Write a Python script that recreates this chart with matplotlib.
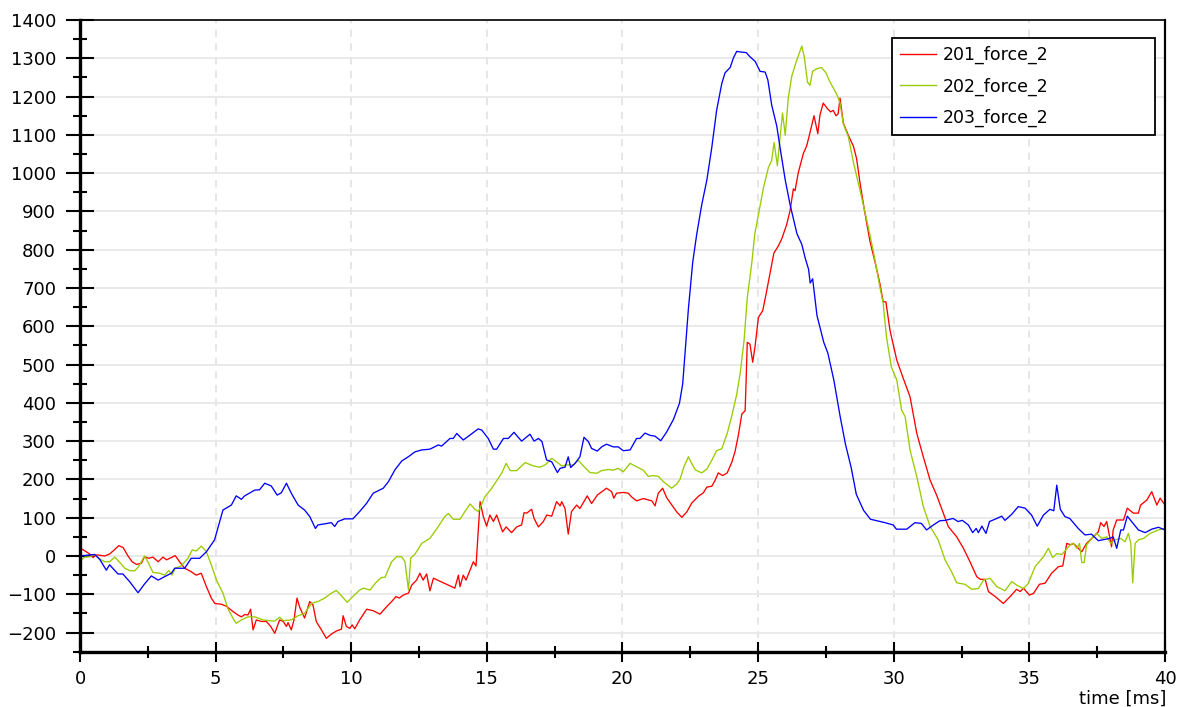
import matplotlib
matplotlib.use("Agg")
import matplotlib.pyplot as plt
from matplotlib.ticker import MultipleLocator

# ---- measured force traces (time in ms, force) ----
t_201 = [0, 0.10, 0.36, 0.48, 0.60, 0.91, 1.09, 1.28, 1.43, 1.59, 1.77, 1.92, 2.08, 2.26, 2.38, 2.53,
         2.69, 2.88, 3.06, 3.19, 3.31, 3.51, 3.67, 3.86, 4.10, 4.28, 4.47, 4.66, 4.84, 4.97, 5.21, 5.39,
         5.64, 5.82, 5.95, 6.07, 6.19, 6.29, 6.38, 6.50, 6.68, 6.87, 7.03, 7.18, 7.36, 7.49, 7.61, 7.67,
         7.79, 7.89, 8.00, 8.10, 8.28, 8.47, 8.59, 8.71, 8.90, 9.08, 9.27, 9.45, 9.64, 9.70, 9.82, 9.95,
         10.03, 10.13, 10.31, 10.57, 10.81, 11.06, 11.31, 11.49, 11.65, 11.77, 11.92, 12.11, 12.23, 12.41,
         12.53, 12.65, 12.78, 12.90, 13.03, 13.82, 13.95, 14.01, 14.13, 14.23, 14.38, 14.50, 14.60, 14.75,
         14.87, 14.99, 15.11, 15.24, 15.36, 15.58, 15.71, 15.91, 16.10, 16.28, 16.37, 16.47, 16.65, 16.74,
         16.90, 17.08, 17.21, 17.39, 17.57, 17.70, 17.76, 17.88, 18.00, 18.12, 18.31, 18.43, 18.70, 18.86,
         19.07, 19.41, 19.60, 19.68, 19.78, 20.03, 20.21, 20.34, 20.52, 20.77, 21.08, 21.20, 21.32, 21.48,
         21.63, 21.82, 22.00, 22.19, 22.37, 22.55, 22.80, 22.98, 23.11, 23.29, 23.41, 23.53, 23.69, 23.86,
         24.03, 24.15, 24.27, 24.40, 24.52, 24.55, 24.60, 24.70, 24.80, 24.89, 25.01, 25.17, 25.29, 25.44,
         25.58, 25.74, 25.87, 26.05, 26.18, 26.30, 26.36, 26.48, 26.67, 26.79, 26.92, 27.06, 27.20, 27.28,
         27.40, 27.55, 27.67, 27.77, 27.87, 27.95, 28.02, 28.14, 28.33, 28.51, 28.63, 28.76, 28.91, 29.12,
         29.31, 29.49, 29.61, 29.71, 29.86, 30.11, 30.35, 30.60, 30.85, 31.09, 31.34, 31.58, 31.83, 32.01,
         32.32, 32.57, 32.81, 33.06, 33.19, 33.37, 33.49, 33.74, 34.04, 34.29, 34.53, 34.66, 34.78, 35.00,
         35.15, 35.37, 35.58, 35.82, 36.07, 36.23, 36.38, 36.52, 36.62, 36.75, 36.93, 37.11, 37.30, 37.54,
         37.63, 37.75, 37.85, 37.97, 38.03, 38.09, 38.22, 38.47, 38.61, 38.83, 39.02, 39.10, 39.33, 39.51,
         39.70, 39.82, 40.0]
f_201 = [20, 17, 5, -4, 3, 0, 5, 17, 27, 22, 0, -15, -22, -19, -2, -6,
         -3, -15, -3, -10, -6, 1, -15, -32, -41, -50, -45, -80, -110, -124, -126, -131,
         -145, -154, -159, -153, -154, -139, -193, -167, -171, -171, -184, -202, -167, -171, -184, -174,
         -193, -167, -110, -134, -162, -119, -128, -171, -193, -215, -204, -196, -191, -156, -184, -189,
         -180, -190, -167, -139, -143, -152, -132, -119, -106, -110, -102, -97, -76, -63,
         -45, -63, -47, -91, -58, -84, -50, -80, -50, -63, -37, -15, -26, 142,
         103, 78, 107, 90, 107, 63, 76, 61, 76, 81, 113, 112, 122, 98,
         76, 90, 107, 104, 142, 131, 142, 124, 57, 116, 133, 124, 157, 137,
         159, 177, 168, 151, 164, 166, 164, 154, 144, 150, 144, 131, 164, 177,
         152, 133, 115, 101, 115, 138, 156, 165, 180, 182, 197, 217, 210, 217,
         245, 273, 315, 371, 379, 441, 558, 553, 506, 549, 623, 641, 683, 739,
         791, 809, 828, 865, 903, 959, 954, 1001, 1052, 1071, 1108, 1150, 1103, 1152,
         1183, 1169, 1160, 1164, 1150, 1155, 1196, 1131, 1098, 1071, 1038, 973, 907, 823,
         768, 711, 664, 664, 590, 512, 464, 416, 320, 259, 198, 159, 111, 77,
         50, 20, -15, -54, -61, -61, -93, -106, -124, -106, -87, -93, -84, -102,
         -98, -74, -71, -45, -28, -26, 33, 29, 33, 24, 11, 33, 46, 63,
         87, 77, 90, 46, 24, 68, 94, 94, 125, 112, 112, 133, 146, 168,
         133, 151, 133]

t_202 = [0, 0.17, 0.36, 0.54, 0.73, 0.91, 1.09, 1.28, 1.47, 1.65, 1.83, 2.01, 2.16, 2.38, 2.53, 2.69,
         2.94, 3.12, 3.27, 3.39, 3.51, 3.73, 3.98, 4.14, 4.29, 4.47, 4.66, 4.84, 5.03, 5.27, 5.45, 5.64,
         5.76, 5.95, 6.19, 6.44, 6.75, 6.99, 7.18, 7.36, 7.49, 7.79, 8.04, 8.28, 8.53, 8.77, 9.02, 9.27,
         9.45, 9.64, 9.85, 10.06, 10.31, 10.45, 10.69, 10.94, 11.12, 11.24, 11.49, 11.67, 11.86, 11.98,
         12.11, 12.19, 12.35, 12.60, 12.90, 13.21, 13.45, 13.58, 13.76, 14.01, 14.19, 14.38, 14.56, 14.69,
         14.93, 15.18, 15.42, 15.55, 15.71, 15.86, 16.10, 16.41, 16.72, 16.96, 17.15, 17.39, 17.57, 17.76,
         17.94, 18.19, 18.37, 18.56, 18.80, 19.05, 19.23, 19.48, 19.66, 19.84, 20.03, 20.28, 20.52, 20.77,
         20.95, 21.14, 21.32, 21.51, 21.81, 22.00, 22.12, 22.27, 22.43, 22.55, 22.68, 22.92, 23.11, 23.29,
         23.47, 23.66, 23.86, 24.03, 24.21, 24.34, 24.48, 24.60, 24.77, 24.88, 25.05, 25.20, 25.38, 25.50,
         25.59, 25.71, 25.81, 25.90, 26.00, 26.11, 26.24, 26.40, 26.61, 26.70, 26.82, 26.91, 27.01, 27.17,
         27.34, 27.50, 27.65, 27.90, 28.02, 28.14, 28.33, 28.51, 28.76, 29.00, 29.25, 29.49, 29.61, 29.73,
         29.91, 30.11, 30.29, 30.42, 30.60, 30.85, 31.09, 31.34, 31.64, 31.89, 32.13, 32.32, 32.63, 32.87,
         33.12, 33.31, 33.55, 33.80, 34.10, 34.35, 34.53, 34.78, 34.96, 35.21, 35.52, 35.70, 35.86, 36.01,
         36.20, 36.36, 36.50, 36.62, 36.75, 36.85, 36.93, 37.02, 37.11, 37.30, 37.48, 37.67, 37.85, 38.00,
         38.16, 38.37, 38.53, 38.65, 38.74, 38.81, 38.90, 39.02, 39.21, 39.45, 39.76, 40.0]
f_202 = [-13, -3, -2, 4, -8, -15, -15, -3, -17, -32, -38, -39, -28, 0, -19, -43,
         -45, -50, -38, -50, -32, -26, -6, 16, 13, 26, 11, -23, -63, -97, -137, -163,
         -176, -167, -159, -159, -167, -169, -170, -160, -169, -167, -156, -150, -124, -119, -110, -97,
         -90, -104, -121, -106, -89, -84, -89, -67, -56, -56, -15, -2, -2, -15,
         -89, -6, 5, 33, 46, 77, 103, 111, 96, 96, 116, 136, 122, 116,
         155, 177, 203, 217, 242, 223, 223, 244, 235, 232, 238, 255, 246, 235,
         238, 238, 250, 235, 218, 216, 223, 226, 224, 229, 220, 242, 233, 224,
         208, 210, 208, 194, 177, 188, 200, 234, 259, 242, 225, 217, 227, 250,
         275, 280, 320, 366, 422, 478, 562, 674, 768, 842, 907, 963, 1015, 1033,
         1080, 1019, 1094, 1157, 1099, 1196, 1253, 1290, 1332, 1304, 1238, 1229, 1266, 1273,
         1276, 1262, 1238, 1206, 1183, 1129, 1094, 1029, 954, 879, 795, 702, 660, 573,
         494, 460, 381, 364, 277, 207, 129, 77, 42, -10, -41, -70, -74, -87,
         -85, -63, -58, -80, -91, -67, -76, -85, -72, -28, -2, 20, -4, 6,
         4, 17, 29, 33, 20, 33, -17, -17, 29, 46, 59, 46, 50, 33,
         42, 46, 37, 59, 33, -70, 33, 42, 46, 59, 68, 72]

t_203 = [0, 0.54, 0.73, 0.97, 1.09, 1.40, 1.58, 1.83, 2.14, 2.38, 2.63, 2.88, 3.12, 3.37, 3.49, 3.86,
         4.10, 4.41, 4.66, 4.96, 5.27, 5.58, 5.76, 5.95, 6.07, 6.44, 6.62, 6.81, 7.05, 7.27, 7.42, 7.61,
         7.79, 8.04, 8.28, 8.47, 8.68, 8.77, 9.02, 9.27, 9.39, 9.51, 9.76, 10.06, 10.31, 10.57, 10.81, 11.18,
         11.37, 11.61, 11.86, 12.10, 12.35, 12.60, 12.90, 13.21, 13.33, 13.64, 13.76, 13.89, 14.13, 14.38,
         14.68, 14.81, 15.05, 15.24, 15.36, 15.61, 15.79, 16.00, 16.28, 16.59, 16.74, 16.90, 17.03, 17.20,
         17.39, 17.60, 17.70, 17.88, 18.00, 18.09, 18.25, 18.43, 18.58, 18.74, 18.86, 19.07, 19.23, 19.41,
         19.66, 19.84, 20.03, 20.28, 20.52, 20.64, 20.83, 21.02, 21.20, 21.41, 21.63, 21.88, 22.10, 22.22,
         22.31, 22.43, 22.59, 22.74, 22.92, 23.11, 23.29, 23.47, 23.66, 23.78, 23.97, 24.09, 24.21, 24.40,
         24.56, 24.70, 24.89, 25.07, 25.26, 25.36, 25.50, 25.69, 25.81, 26.00, 26.18, 26.43, 26.61, 26.74,
         26.86, 26.92, 27.01, 27.17, 27.42, 27.57, 27.79, 28.03, 28.22, 28.43, 28.62, 28.77, 28.89, 29.14,
         29.49, 29.68, 29.98, 30.10, 30.48, 30.78, 31.02, 31.21, 31.46, 31.70, 31.89, 32.19, 32.37, 32.53,
         32.75, 32.91, 33.04, 33.12, 33.25, 33.40, 33.53, 33.80, 33.98, 34.10, 34.35, 34.59, 34.84, 35.08,
         35.29, 35.52, 35.76, 35.90, 36.01, 36.14, 36.31, 36.49, 36.80, 37.05, 37.29, 37.54, 37.75, 37.97,
         38.09, 38.22, 38.37, 38.47, 38.61, 38.77, 39.02, 39.27, 39.51, 39.76, 40.0]
f_203 = [0, 4, -9, -37, -23, -47, -47, -67, -96, -73, -52, -63, -54, -45, -32, -32,
         -6, -6, 11, 42, 120, 133, 157, 148, 157, 172, 173, 190, 183, 159, 165, 190,
         164, 133, 120, 103, 72, 81, 84, 87, 77, 90, 97, 97, 116, 138, 164, 177,
         194, 225, 248, 259, 272, 277, 279, 290, 287, 307, 307, 320, 303, 316,
         332, 329, 307, 279, 279, 307, 307, 323, 300, 318, 300, 307, 299, 251,
         246, 218, 229, 232, 259, 231, 242, 259, 310, 299, 281, 274, 285, 292,
         285, 285, 275, 277, 307, 307, 321, 315, 313, 301, 324, 357, 399, 450,
         534, 646, 768, 842, 917, 982, 1066, 1164, 1234, 1262, 1276, 1301, 1318, 1316,
         1315, 1304, 1292, 1266, 1264, 1243, 1178, 1122, 1066, 982, 917, 842, 814, 777,
         749, 713, 724, 628, 558, 530, 460, 362, 292, 231, 161, 138, 119, 96,
         90, 87, 81, 70, 70, 87, 85, 68, 81, 92, 93, 98, 90, 93,
         81, 61, 72, 61, 78, 59, 90, 98, 104, 93, 109, 129, 125, 107,
         78, 107, 122, 118, 185, 122, 103, 98, 72, 55, 57, 40, 43, 46,
         50, 20, 68, 68, 104, 90, 68, 61, 70, 75, 68]

series_labels = ["201_force_2", "202_force_2", "203_force_2"]
series_colors = ["#ff0000", "#99cc00", "#0000ff"]

x_ticks = [0, 5, 10, 15, 20, 25, 30, 35, 40]
y_ticks = list(range(-200, 1401, 100))

plt.rcParams['font.family'] = ['DejaVu Sans']

fig = plt.figure(figsize=(11.77, 7.07), dpi=100)
ax = fig.add_axes([0.06797, 0.07822, 0.92183, 0.89349])

for t, f, lab, col in zip([t_201, t_202, t_203], [f_201, f_202, f_203], series_labels, series_colors):
    ax.plot(t, f, color=col, lw=0.95, label=lab)

ax.set_xlim(0, 40)
ax.set_ylim(-250, 1400)
ax.set_xticks(x_ticks)
ax.set_yticks(y_ticks)
ax.xaxis.set_minor_locator(MultipleLocator(2.5))
ax.yaxis.set_minor_locator(MultipleLocator(50))

ax.set_axisbelow(True)
ax.yaxis.grid(True, which='major', color='#e6e6e6', lw=1.2, ls='-')
ax.xaxis.grid(True, which='major', color='#e2e2e2', lw=1.2, ls=(0, (4.4, 3.8)))

ax.tick_params(axis='y', which='major', direction='inout', length=19.5, width=1.5, pad=7.5,
               labelsize=13, colors='black')
ax.tick_params(axis='y', which='minor', direction='inout', length=10, width=1.5)
ax.tick_params(axis='x', which='major', direction='inout', length=15, width=1.5, pad=6,
               labelsize=13, colors='black')
ax.tick_params(axis='x', which='minor', direction='inout', length=9, width=1.5)

ax.spines['left'].set_linewidth(2.4)
ax.spines['bottom'].set_linewidth(2.4)
ax.spines['top'].set_linewidth(1.2)
ax.spines['right'].set_linewidth(1.6)
for s in ax.spines.values():
    s.set_color('black')

ax.set_xlabel('time [ms]', fontsize=13)
ax.xaxis.label.set_horizontalalignment('right')
ax.xaxis.label.set_verticalalignment('baseline')
ax.xaxis.set_label_coords(1.0009, -0.082)

leg = ax.legend(loc='upper left', bbox_to_anchor=(0.7484, 0.8211, 0.2424, 0.1504), mode='expand',
                borderaxespad=0, fontsize=12.5, frameon=True, fancybox=False, framealpha=1,
                edgecolor='black', handlelength=2.07, handletextpad=0.4, labelspacing=0.76,
                borderpad=0.45)
leg.get_frame().set_linewidth(1.3)
for line in leg.get_lines():
    line.set_linewidth(1.0)

fig.savefig('out.png', dpi=100)
